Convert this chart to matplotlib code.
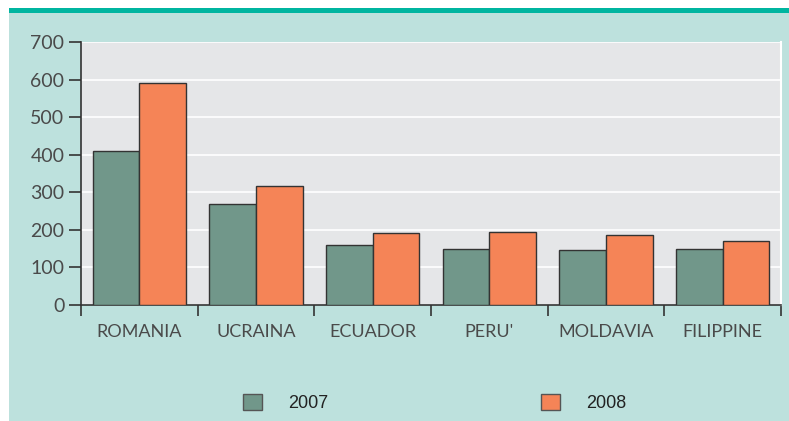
import matplotlib
matplotlib.use("Agg")
import matplotlib.pyplot as plt
from matplotlib.patches import Rectangle
import numpy as np

# Dati
paesi = ["ROMANIA", "UCRAINA", "ECUADOR", "PERU'", "MOLDAVIA", "FILIPPINE"]
valori_2007 = [410, 268, 160, 148, 146, 150]
valori_2008 = [590, 317, 191, 194, 186, 170]
anni = ["2007", "2008"]
y_ticks = [0, 100, 200, 300, 400, 500, 600, 700]

# Colori
COL_2007 = "#71978A"
COL_2008 = "#F58457"
COL_SFONDO = "#BDE1DD"
COL_BANDA = "#00B5A0"
COL_AREA = "#E5E6E8"
COL_TESTO = "#4A4A4A"

fig = plt.figure(figsize=(7.89, 4.21), dpi=100)
fig.patch.set_facecolor("white")

# Sfondo e banda superiore
fig.patches.append(Rectangle((9 / 789, 0), 1, 408 / 421, transform=fig.transFigure,
                             facecolor=COL_SFONDO, edgecolor="none", zorder=-2))
fig.patches.append(Rectangle((9 / 789, 408 / 421), 1, 5 / 421, transform=fig.transFigure,
                             facecolor=COL_BANDA, edgecolor="none", zorder=-2))

ax = fig.add_axes([81 / 789, 116 / 421, 700 / 789, 263 / 421])
ax.set_facecolor(COL_AREA)

x = np.arange(len(paesi))
w = 0.4
b1 = ax.bar(x - w / 2, valori_2007, w, color=COL_2007, edgecolor="#333333",
            linewidth=1.0, label=anni[0], zorder=3)
b2 = ax.bar(x + w / 2, valori_2008, w, color=COL_2008, edgecolor="#333333",
            linewidth=1.0, label=anni[1], zorder=3)

ax.set_xlim(-0.5, len(paesi) - 0.5)
ax.set_ylim(0, 700)
ax.set_yticks(y_ticks)
ax.yaxis.grid(True, color="white", linewidth=1.2, zorder=1)
ax.set_axisbelow(True)

# Tick di categoria ai bordi
ax.set_xticks(x)
ax.set_xticklabels(paesi)
ax.set_xticks(np.arange(-0.5, len(paesi), 1), minor=True)
ax.tick_params(axis="x", which="major", length=0, pad=14,
               labelsize=13, labelcolor=COL_TESTO)
ax.tick_params(axis="x", which="minor", length=8, width=1.2,
               color="#333333", direction="out")
ax.tick_params(axis="y", length=9, width=1.2, color="#333333",
               labelsize=14, labelcolor=COL_TESTO, pad=3)
for lab in ax.get_xticklabels() + ax.get_yticklabels():
    lab.set_family(["Lato", "DejaVu Sans"])

ax.spines["top"].set_visible(False)
ax.spines["right"].set_color("white")
ax.spines["right"].set_linewidth(1.5)
ax.spines["left"].set_color("#333333")
ax.spines["bottom"].set_color("#333333")
ax.spines["left"].set_linewidth(1.2)
ax.spines["bottom"].set_linewidth(1.2)

leg = fig.legend(handles=[b1, b2], labels=anni, loc="center",
                 bbox_to_anchor=(0.551, 0.043), ncol=2, frameon=False,
                 handlelength=1.05, handleheight=1.05, handletextpad=1.45,
                 columnspacing=11.8, borderpad=0,
                 prop={"family": "Liberation Sans", "size": 13})
for t in leg.get_texts():
    t.set_color("#222222")
for h in leg.legend_handles:
    h.set_edgecolor("#555555")

fig.savefig("out.png", dpi=100, facecolor=fig.get_facecolor())
